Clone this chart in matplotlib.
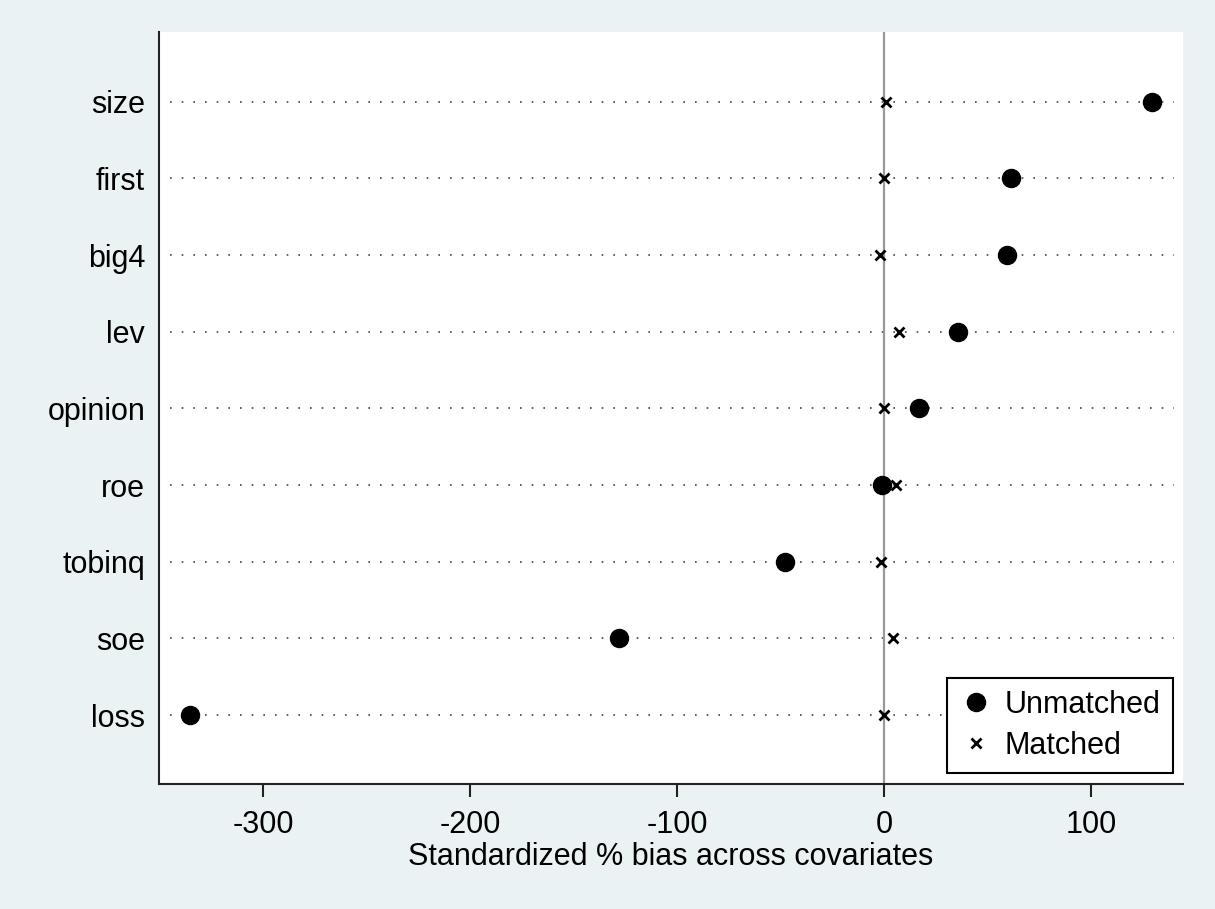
import matplotlib.pyplot as plt
import numpy as np

plt.rcParams['font.family'] = ['Liberation Sans', 'DejaVu Sans']

# covariates listed bottom to top
covariates = ['loss', 'soe', 'tobinq', 'roe', 'opinion', 'lev', 'big4', 'first', 'size']
unmatched = [-335.3, -128.0, -47.8, -1.0, 16.9, 35.7, 59.4, 61.4, 129.5]
matched = [0.0, 4.3, -1.4, 5.8, 0.0, 7.2, -2.0, 0.0, 1.0]
xticks = [-300, -200, -100, 0, 100]

bg = '#EAF2F3'
fig = plt.figure(figsize=(12.15, 9.09), dpi=100, facecolor=bg)
ax = fig.add_axes([0.1309, 0.1375, 0.8428, 0.8273])
ax.set_facecolor('white')

ypos = np.arange(1, len(covariates) + 1)

# dotted guide lines for each covariate
for y in ypos:
    ax.plot([-345, 140], [y, y], color='#444444', lw=1.2, linestyle=(0, (1, 6)), zorder=1)

# reference line at zero
ax.axvline(0, color='#999999', lw=1.6, zorder=1)

ax.plot(unmatched, ypos, 'o', color='black', ms=13, label='Unmatched', zorder=3)
ax.plot(matched, ypos, 'x', color='black', ms=7, mew=2, label='Matched', zorder=4)

ax.set_xlim(-350.2, 144.4)
ax.set_ylim(0.1, 9.91)
ax.set_xticks(xticks)
ax.set_xticklabels([str(t) for t in xticks])
ax.set_yticks(ypos)
ax.set_yticklabels(covariates)

for s in ['top', 'right']:
    ax.spines[s].set_visible(False)
for s in ['left', 'bottom']:
    ax.spines[s].set_linewidth(1.5)
    ax.spines[s].set_color('#222222')

ax.tick_params(axis='x', length=9.5, width=1.5, pad=9, labelsize=22, color='#222222')
ax.tick_params(axis='y', length=0, pad=10, labelsize=22)

ax.set_xlabel('Standardized % bias across covariates', fontsize=22, labelpad=2)

leg = ax.legend(loc='lower right', bbox_to_anchor=(0.990, 0.0146), borderaxespad=0,
                fancybox=False, framealpha=1, edgecolor='black', fontsize=22,
                handletextpad=0.4, handlelength=1.1, labelspacing=0.35,
                borderpad=0.4)
leg.get_frame().set_linewidth(1.5)

plt.savefig('out.png', dpi=100, facecolor=bg)
